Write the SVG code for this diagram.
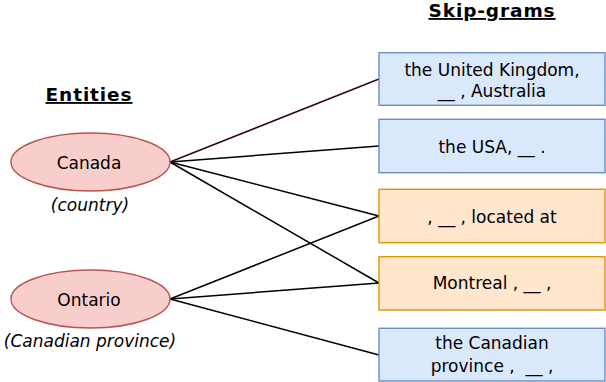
<svg xmlns="http://www.w3.org/2000/svg" width="606" height="382" viewBox="0 0 606 382">
  <style>
    text { font-family: "DejaVu Sans", Verdana, sans-serif; font-size: 17px; fill: #000; text-anchor: middle; white-space: pre; }
    .title { font-size: 18.5px; font-weight: bold; text-decoration: underline; letter-spacing: 0.9px; }
    .note { font-style: italic; }
    .entity { fill: #f8cecc; stroke: #b85450; stroke-width: 1.4; }
    .blue { fill: #dae8fc; stroke: #6c8ebf; stroke-width: 1.4; }
    .orange { fill: #ffe6cc; stroke: #d79b00; stroke-width: 1.4; }
    .edge { fill: none; stroke: #000; stroke-width: 1.5; }
  </style>

  <!-- headings -->
  <text class="title" x="89" y="101">Entities</text>
  <text class="title" x="492" y="17">Skip-grams</text>

  <!-- connectors -->
  <g id="connectors">
    <line class="edge" x1="170" y1="162" x2="379" y2="79" style="stroke:#33001a"/>
    <line class="edge" x1="170" y1="162" x2="379" y2="146"/>
    <line class="edge" x1="170" y1="162" x2="379" y2="216"/>
    <line class="edge" x1="170" y1="162" x2="379" y2="283"/>
    <line class="edge" x1="170" y1="299" x2="379" y2="216"/>
    <line class="edge" x1="170" y1="299" x2="379" y2="283"/>
    <line class="edge" x1="170" y1="299" x2="379" y2="355"/>
  </g>

  <!-- entities -->
  <g id="canada">
    <ellipse class="entity" cx="90.5" cy="162" rx="79.5" ry="29"/>
    <text x="89" y="168.5">Canada</text>
    <text class="note" x="90" y="211">(country)</text>
  </g>
  <g id="ontario">
    <ellipse class="entity" cx="90.5" cy="299" rx="79.5" ry="29"/>
    <text x="89" y="305.5">Ontario</text>
    <text class="note" x="90" y="347">(Canadian province)</text>
  </g>

  <!-- skip-gram contexts -->
  <g id="sg-uk">
    <rect class="blue" x="379" y="52.7" width="226" height="52.6"/>
    <text x="492" y="76">the United Kingdom,</text>
    <text x="492" y="96.5">__ , Australia</text>
  </g>
  <g id="sg-usa">
    <rect class="blue" x="379" y="119.3" width="226" height="53.4"/>
    <text x="492" y="152.5">the USA, __ .</text>
  </g>
  <g id="sg-located">
    <rect class="orange" x="379" y="189.3" width="226" height="53.4"/>
    <text x="492" y="223">, __ , located at</text>
  </g>
  <g id="sg-montreal">
    <rect class="orange" x="379" y="256.7" width="226" height="53.3"/>
    <text x="492" y="289.3">Montreal , __ ,</text>
  </g>
  <g id="sg-province">
    <rect class="blue" x="379" y="328.3" width="226" height="52.7"/>
    <text x="492" y="349.3">the Canadian</text>
    <text x="492" y="371.5">province ,  __ ,</text>
  </g>
</svg>
